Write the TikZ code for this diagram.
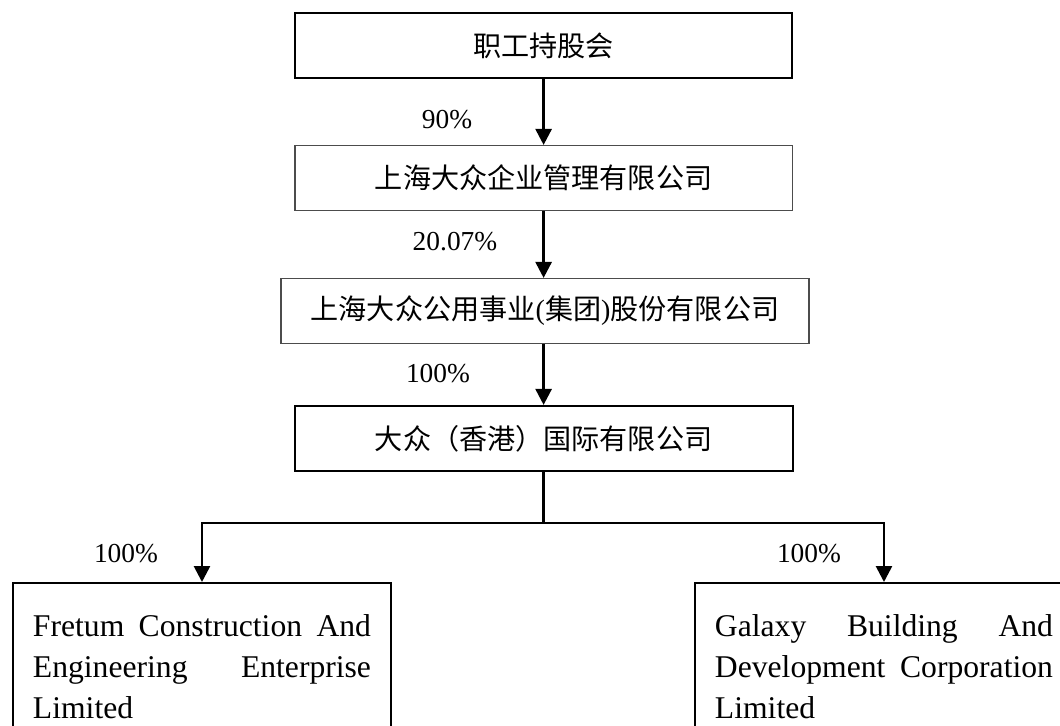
\documentclass[tikz,border=0pt]{standalone}
\usepackage{fontspec}
\setmainfont{Liberation Serif}
\newfontfamily\cjk{Noto Sans CJK SC}
\usetikzlibrary{arrows.meta,positioning}
\tikzset{
	holder/.style = {draw, line width=1.4pt, inner sep=0pt, minimum width=12.43cm, minimum height=1.625cm, font=\cjk\fontsize{20}{24}\selectfont},
	thinholder/.style = {holder, line width=0.8pt, draw=black!70},
	sub/.style = {draw, line width=1.4pt, anchor=north west, text width=8.45cm, inner xsep=0.5cm, inner ysep=0.78cm, align=left, font=\fontsize{22.5}{29.4}\selectfont},
	share/.style = {-{Triangle[width=0.4cm,length=0.4cm]}, line width=1.9pt},
	pct/.style = {inner sep=0pt, font=\fontsize{19.5}{22}\selectfont}
}
\begin{document}
		\begin{tikzpicture}
			\clip (0,0) rectangle (26.5,-18.125);
			\node [holder] (esop) at (13.59,-1.14) {职工持股会};
			\node [thinholder] (mgmt) at (13.59,-4.45) {上海大众企业管理有限公司};
			\node [thinholder, minimum width=13.2cm] (group) at (13.625,-7.775) {上海大众公用事业{\rmfamily(}集团{\rmfamily)}股份有限公司};
			\node [holder, minimum width=12.45cm] (hk) at (13.59,-10.96) {大众（香港）国际有限公司};
			\node [sub] (fretum) at (0.3,-14.55) {Fretum\hfill Construction\hfill And\\Engineering\hfill Enterprise\\Limited\strut};
			\node [sub] (galaxy) at (17.35,-14.55) {Galaxy\hfill Building\hfill And\\Development\hfill Corporation\\Limited\strut};

			\draw [share] (esop.south) -- (mgmt.north);
			\draw [share] (mgmt.south) -- (mgmt.south |- group.north);
			\draw [share] (group.south -| hk.north) -- (hk.north);
			\draw [line width=1.9pt] (hk.south) -- ++(0,-1.275) coordinate (fork);
			\draw [share] (fork) -| (fretum.north);
			\draw [share] (fork) -| (galaxy.north);

			\node [pct] (p1) at (11.175,-3.0) {90\%};
			\node [pct] (p2) at (11.375,-6.04) {20.07\%};
			\node [pct] (p3) at (10.95,-9.35) {100\%};
			\node [pct] (p4) at (3.15,-13.84) {100\%};
			\node [pct] (p5) at (20.225,-13.83) {100\%};
		\end{tikzpicture}
\end{document}
